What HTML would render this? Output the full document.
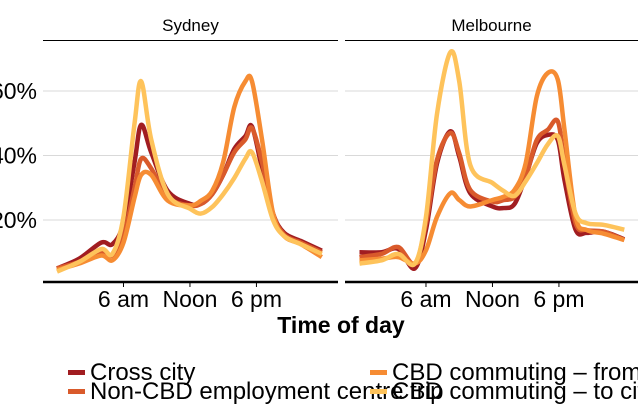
<!DOCTYPE html>
<html><head><meta charset="utf-8">
<style>
body{margin:0;background:#fff;width:638px;height:417px;overflow:hidden;font-family:"Liberation Sans",sans-serif;}
svg{display:block}
</style></head>
<body>
<svg id="chart" width="638" height="417">
  <g id="grid"></g>
  <g id="lines"></g>
  <g id="axes"></g>
  <g id="legend"></g>
</svg>
<script>
const seriesNames = ["Cross city","Non-CBD employment centre trip","CBD commuting – from city","CBD commuting – to city"];
const seriesColors = ["#A11D21","#D95A2B","#F68C33","#FEC35B"];
const yTicks = [20,40,60];
const yTickLabels = ["20%","40%","60%"];
const xTicks = [6,12,18];
const xTickLabels = ["6 am","Noon","6 pm"];
const panels = ["Sydney","Melbourne"];

const sydHours = [0,2,4,5,6,7,7.6,8.5,10,12,13,14,15,16,17,17.6,18.5,19.5,20.5,22,23.9];
const sydCross = [5,8,13,12.5,19,38,49.5,41,29,25,25,28,34,42,46,49,36,22,16,13.5,10.5];
const sydNonCBD = [5,7,10,9,15,30,39,36,27,24.5,25,28,34,41,45,48.5,38,22,15.5,13,10];
const sydFrom = [4.5,6.5,9,7.5,13,27,34,34,26,24.5,26,29,38,55,63,63,45,22,15,12.5,8.5];
const sydTo = [4,7,11,9.5,21,50,63,45,28,23.5,22,24,28,33,39,41,32,20,15,12.5,9.5];

const melHours = [0,2,3.5,5,6,7,8.2,9,10,12,13,14,15,16,17,17.9,18.5,19.5,20.5,22,23.9];
const melCross = [10,10,11,5,17,37.6,47.5,39.7,28.3,24.2,23.7,25,33.5,43.8,46.4,44.8,32.4,17,16,16.4,14];
const melNonCBD = [8.5,9.5,11.6,6.5,19,38.7,47,40.7,29.3,25.7,26.2,27.2,33.5,44.8,48,50.6,37.6,19,16.9,16.4,13.8];
const melFrom = [7.5,8,8.5,6.5,10.6,21,28.3,26.2,24.2,26.2,27.2,29.4,37.6,58.3,65.6,63.5,48,21,16.9,15.8,13.8];
const melTo = [6.5,7.5,9.5,6.5,21,53,72,63,37,31.5,29,27.5,32,37.6,43.5,46,37,22,19,18.5,17];

const panelHours = [sydHours, melHours];
const panelSeries = [[sydCross,sydNonCBD,sydFrom,sydTo],[melCross,melNonCBD,melFrom,melTo]];

const NS="http://www.w3.org/2000/svg";
const panelX0=[43,345], panelX1=[338,640], hour0=[57,359.5], pxPerHour=11.08;
function xScale(p,h){return hour0[p]+h*pxPerHour;}
function yScale(v){return 284.5-v*3.225;}
function mk(tag,attrs,parent){const e=document.createElementNS(NS,tag);for(const k in attrs)e.setAttribute(k,attrs[k]);parent.appendChild(e);return e;}
function smooth(pts){let d=`M${pts[0][0]},${pts[0][1]}`;for(let i=0;i<pts.length-1;i++){const p0=pts[Math.max(i-1,0)],p1=pts[i],p2=pts[i+1],p3=pts[Math.min(i+2,pts.length-1)];const c1=[p1[0]+(p2[0]-p0[0])/6,p1[1]+(p2[1]-p0[1])/6],c2=[p2[0]-(p3[0]-p1[0])/6,p2[1]-(p3[1]-p1[1])/6];d+=`C${c1[0]},${c1[1]} ${c2[0]},${c2[1]} ${p2[0]},${p2[1]}`;}return d;}

const grid=document.getElementById('grid'),lines=document.getElementById('lines'),axes=document.getElementById('axes'),legend=document.getElementById('legend');
panels.forEach((name,p)=>{
  yTicks.forEach(t=>{const l=mk('line',{x1:panelX0[p],x2:panelX1[p],y1:yScale(t),y2:yScale(t),stroke:'#d9d9d9','stroke-width':1},grid);
    
    });
  const strip=mk('text',{x:(panelX0[p]+Math.min(panelX1[p],638))/2,y:31,'text-anchor':'middle','font-size':17,fill:'#000'},axes);strip.textContent=name;
  
  
  const sl=mk('line',{x1:panelX0[p],x2:panelX1[p],y1:40.5,y2:40.5,stroke:'#000','stroke-width':1},axes);
  
  
  const ax=mk('line',{x1:panelX0[p],x2:panelX1[p],y1:282,y2:282,stroke:'#000','stroke-width':2.5},axes);
  
  
  xTicks.forEach((t,i)=>{const x=xScale(p,t);
    const tk=mk('line',{x1:x,x2:x,y1:282,y2:287,stroke:'#000','stroke-width':1},axes);
    
    
    const tl=mk('text',{x:x,y:307,'text-anchor':'middle','font-size':23,fill:'#000'},axes);tl.textContent=xTickLabels[i];
    
    });
  panelSeries[p].forEach((vals,s)=>{const pts=vals.map((v,i)=>[xScale(p,panelHours[p][i]),yScale(v)]);
    const path=mk('path',{d:smooth(pts),fill:'none',stroke:seriesColors[s],'stroke-width':4.5,'stroke-linejoin':'round'},lines);
    
    });
});
yTicks.forEach((t,i)=>{const tl=mk('text',{x:37,y:yScale(t)+8,'text-anchor':'end','font-size':23,fill:'#000'},axes);tl.textContent=yTickLabels[i];
  
  });
const xt=mk('text',{x:341,y:333,'text-anchor':'middle','font-size':23,'font-weight':'bold',fill:'#000'},axes);xt.textContent='Time of day';


const legPos=[[68,372],[68,391],[370,372],[370,391]];
seriesNames.forEach((n,s)=>{const [x,y]=legPos[s];
  const k=mk('rect',{x:x,y:y-2,width:17,height:5,fill:seriesColors[s]},legend);
  
  
  const t=mk('text',{x:x+22,y:y+8,'font-size':24,fill:'#000'},legend);t.textContent=n;
  
  });
</script>
</body></html>
